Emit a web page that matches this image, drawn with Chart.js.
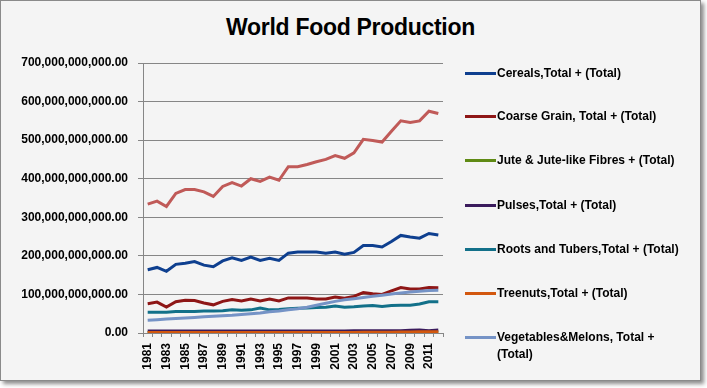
<!DOCTYPE html>
<html>
<head>
<meta charset="utf-8">
<script src="https://cdn.jsdelivr.net/npm/chart.js@4.4.0/dist/chart.umd.min.js"></script>
<style>
  body { margin: 0; background: #fff; font-family: "Liberation Sans", Arial, sans-serif; }
  #frame {
    position: absolute; left: 0; top: 0; width: 699px; height: 379px;
    border: 1px solid #8a8a8a; background: #f4f4f4;
    box-shadow: 3px 3px 4px rgba(0, 0, 0, 0.45);
  }
  #title {
    position: absolute; left: 0; top: 13px; width: 699px; text-align: center;
    font-size: 23px; font-weight: bold; color: #000; letter-spacing: -0.3px;
  }
  #wrap { position: absolute; left: 0; top: 0; width: 699px; height: 379px; }
  .item { position: absolute; left: 464px; font-size: 12px; font-weight: bold; color: #000; line-height: 17px; }
  .item .swatch { position: absolute; left: 0; top: 7px; width: 31px; height: 3px; }
  .item .txt { position: absolute; left: 32px; top: 0; width: 193px; }
</style>
</head>
<body>
<div id="frame">
  <div id="title">World Food Production</div>
  <div id="wrap"><canvas id="myChart"></canvas></div>
  <div id="legend"></div>
</div>
<script>
  // 연도
  const years = ["1981","1982","1983","1984","1985","1986","1987","1988","1989","1990",
    "1991","1992","1993","1994","1995","1996","1997","1998","1999","2000",
    "2001","2002","2003","2004","2005","2006","2007","2008","2009","2010","2011","2012"];

  // 값 (단위: 10억)
  const unit = 1e9;
  const cereals = [164,170,160,178,181,185,176,172,187,195,188,197,188,194,188,207,210,210,210,207,210,204,209,227,227,223,237,253,249,246,258,254];
  const coarseGrain = [76,80,67,81,85,84,78,73,82,87,83,88,83,88,83,91,91,91,88,88,93,90,95,105,102,100,109,118,114,114,118,117];
  const jute = [1,1,1,1,1,1,1,1,1,1,1,1,1,1,1,1,1,1,1,1,1,1,1,1,1,1,1,1,1,1,1,1];
  const pulses = [5,5,5,5,5,5,5,5,5.5,5.5,5.5,5.5,5.5,5.5,5.5,5.5,5.5,5.5,5.5,5.5,5.5,5.5,6,6,6,6,6,6,7,8,6,8];
  const roots = [54,54,54,56,56,56,57,57,58,60,59,60,65,60,61,63,64,65,66,67,70,67,68,70,71,69,71,72,72,75,81,81];
  const treenuts = [1,1,1,1,1,1,1,1,1,1,1,1,1,1,1,1,1.2,1.2,1.3,1.3,1.4,1.5,1.6,1.8,2,2,2.2,2.5,2.8,3,3.2,3.4];
  const vegetables = [33,34.5,36,37.5,39,40.5,42,43.5,45,46,48,50,52,55,57,60,63,67,72,77,82,86,89,92,95,98,101,104,106,108,110,111];
  const otherSeries = [334,342,328,362,372,372,366,354,380,390,381,400,393,404,396,431,431,437,444,450,460,453,467,502,499,495,523,550,546,550,575,569];

  const seriesNames = [
    "Cereals,Total + (Total)",
    "Coarse Grain, Total + (Total)",
    "Jute & Jute-like Fibres + (Total)",
    "Pulses,Total + (Total)",
    "Roots and Tubers,Total + (Total)",
    "Treenuts,Total + (Total)",
    "Vegetables&Melons, Total + (Total)",
    "Series 8"
  ];
  const yTicks = [0,100,200,300,400,500,600,700];

  const seriesData = [cereals, coarseGrain, jute, pulses, roots, treenuts, vegetables, otherSeries];
  const colors = ["#0e3f8f","#8e1616","#5f8a14","#3a1b5c","#127089","#d2570e","#7593c6","#c05a58"];

  const ctx = document.getElementById("myChart").getContext("2d");
  const chart = new Chart(ctx, {
    type: "line",
    data: {
      labels: years,
      datasets: seriesData.map((arr, i) => ({
        label: seriesNames[i],
        data: arr.map((v) => v * unit),
        borderColor: colors[i],
        backgroundColor: colors[i],
        borderWidth: 3,
        pointRadius: 0,
        fill: false,
        tension: 0,
        order: 10 - i, // 엑셀처럼 뒤 시리즈가 위에
        inLegend: i < 7,
      })),
    },
    options: {
      responsive: true,
      maintainAspectRatio: false,
      animation: false,
      layout: { padding: { top: 62, right: 257, left: 0, bottom: 0 } },
      plugins: { legend: { display: false }, title: { display: false }, tooltip: { enabled: false } },
      scales: {
        x: {
          offset: true,
          grid: { offset: true, drawOnChartArea: false, tickLength: 4, color: "#868686" },
          border: { color: "#868686" },
          ticks: {
            autoSkip: false,
            minRotation: 90,
            maxRotation: 90,
            padding: 6,
            color: "#000",
            font: { family: "Liberation Sans", size: 12, weight: "bold" },
            callback: (val, idx) => (idx % 2 === 0 ? years[idx] : ""),
          },
          afterFit: (scale) => { scale.height = 47; },
        },
        y: {
          min: 0,
          max: 700 * unit,
          afterBuildTicks: (scale) => { scale.ticks = yTicks.map((v) => ({ value: v * unit })); },
          grid: { color: "#868686", tickLength: 5 },
          border: { color: "#868686" },
          ticks: {
            padding: 10,
            color: "#000",
            font: { family: "Liberation Sans", size: 12, weight: "bold" },
            callback: (v) => Number(v).toLocaleString("en-US", { minimumFractionDigits: 2, maximumFractionDigits: 2 }),
          },
          afterFit: (scale) => { scale.width = 142; },
        },
      },
    },
  });

  // 범례 (html)
  const legendTops = [64, 107, 151, 196, 240, 284, 328];
  let n = 0;
  chart.data.datasets.forEach((ds) => {
    if (!ds.inLegend) return;
    const item = document.createElement("div");
    item.className = "item";
    item.style.top = legendTops[n] + "px";
    item.innerHTML = `<div class="swatch" style="background:${ds.borderColor}"></div><div class="txt">${ds.label}</div>`;
    document.getElementById("legend").appendChild(item);
    n++;
  });
</script>
</body>
</html>
